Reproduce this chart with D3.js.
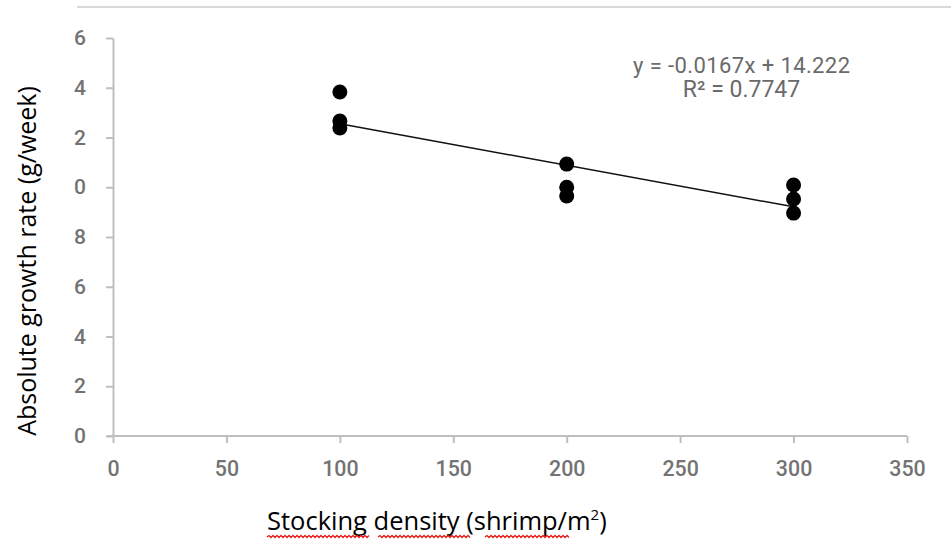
<!DOCTYPE html>
<html>
<head>
<meta charset="utf-8">
<script src="https://cdn.jsdelivr.net/npm/d3@7"></script>
<style>
  body { margin: 0; background: #fff; }
  svg { display: block; }
</style>
</head>
<body>
<div id="chart"></div>
<script>
// data
var densities = [100, 100, 100, 200, 200, 200, 300, 300, 300];
var growth = [13.83, 12.66, 12.38, 10.93, 10.0, 9.65, 10.09, 9.53, 8.96];
var xTicks = [0, 50, 100, 150, 200, 250, 300, 350];
var yTicks = [0, 2, 4, 6, 8, 10, 12, 14, 16];
// the left digits of the y labels are cut off in the original
var yTickLabels = ['0', '2', '4', '6', '8', '0', '2', '4', '6'];
var slope = -0.0167, intercept = 14.222;
var equationLines = ['y = -0.0167x + 14.222', 'R\u00b2 = 0.7747'];

var width = 951, height = 547;
var svg = d3.select('#chart').append('svg')
  .attr('width', width)
  .attr('height', height);

var x = d3.scaleLinear().domain([0, 350]).range([113, 907]);
var y = d3.scaleLinear().domain([0, 16]).range([436, 38]);

var axisColor = '#bfbfbf';
var labelColor = '#737373';
var tickFont = 'Roboto, "Liberation Sans", sans-serif';

// top border line
svg.append('line')
  .attr('x1', 77).attr('x2', width)
  .attr('y1', 7).attr('y2', 7)
  .attr('stroke', '#d9d9d9').attr('stroke-width', 2);

// x axis
var xAxis = svg.append('g')
  .attr('transform', 'translate(0,' + y(0) + ')')
  .call(d3.axisBottom(x).tickValues(xTicks).tickSize(7).tickSizeOuter(0).tickPadding(17));
xAxis.select('.domain').attr('stroke', axisColor).attr('stroke-width', 2)
  .attr('d', 'M107,0H' + x(350));
xAxis.selectAll('.tick line').attr('stroke', axisColor).attr('stroke-width', 2);
xAxis.selectAll('.tick text')
  .attr('fill', labelColor)
  .style('font-family', tickFont)
  .style('font-size', '23px')
  .style('font-weight', 500)
  .attr('transform', 'scale(0.93,1)');

// y axis
var yAxis = svg.append('g')
  .attr('transform', 'translate(' + x(0) + ',0)')
  .call(d3.axisLeft(y).tickValues(yTicks)
    .tickFormat(function(d, i) { return yTickLabels[i]; })
    .tickSize(7).tickSizeOuter(0).tickPadding(20));
yAxis.select('.domain').attr('stroke', axisColor).attr('stroke-width', 2);
yAxis.selectAll('.tick line').attr('stroke', axisColor).attr('stroke-width', 2);
yAxis.selectAll('.tick text')
  .attr('fill', labelColor)
  .style('font-family', tickFont)
  .style('font-size', '21px')
  .style('font-weight', 500);

// trend line
svg.append('line')
  .attr('x1', x(100)).attr('y1', y(slope * 100 + intercept))
  .attr('x2', x(300)).attr('y2', y(slope * 300 + intercept))
  .attr('stroke', '#111').attr('stroke-width', 1.5);

// points
svg.selectAll('circle.pt').data(densities)
  .enter().append('circle')
  .attr('class', 'pt')
  .attr('cx', function(d) { return x(d); })
  .attr('cy', function(d, i) { return y(growth[i]); })
  .attr('r', 7.5)
  .attr('fill', '#000');

// equation
svg.append('text')
  .attr('x', 741.5 - 108.5).attr('y', 73)
  .attr('textLength', 217)
  .attr('lengthAdjust', 'spacing')
  .attr('fill', '#6a6a6a')
  .style('font-family', tickFont)
  .style('font-size', '22px')
  .text(equationLines[0]);
svg.append('text')
  .attr('x', 741.5).attr('y', 97)
  .attr('text-anchor', 'middle')
  .attr('fill', '#6a6a6a')
  .style('font-family', tickFont)
  .style('font-size', '23px')
  .text(equationLines[1]);

// y title
svg.append('text')
  .attr('transform', 'translate(36,261) rotate(-90)')
  .attr('text-anchor', 'middle')
  .attr('fill', '#000')
  .style('font-family', '"Open Sans", sans-serif')
  .style('font-size', '25px')
  .text('Absolute growth rate (g/week)');

// x title
var xt = svg.append('text')
  .attr('x', 267).attr('y', 530)
  .attr('fill', '#000')
  .style('font-family', '"Open Sans", sans-serif')
  .style('font-size', '25.5px');
xt.append('tspan').text('Stocking density (shrimp/m');
xt.append('tspan').attr('dy', -10).style('font-size', '15px').text('2');
xt.append('tspan').attr('dy', 10).text(')');

// spell-check squiggles
var squiggle = function(x0, x1, yy) {
  var p = 'M' + x0 + ',' + yy;
  var up = true;
  for (var xx = x0 + 2; xx <= x1; xx += 2) {
    p += 'L' + xx + ',' + (up ? yy - 1.5 : yy + 0.5);
    up = !up;
  }
  svg.append('path').attr('d', p).attr('fill', 'none')
    .attr('stroke', '#e0201b').attr('stroke-width', 1.3);
};
squiggle(267, 370, 537);
squiggle(378, 470, 537);
squiggle(485, 570, 537);
</script>
</body>
</html>
